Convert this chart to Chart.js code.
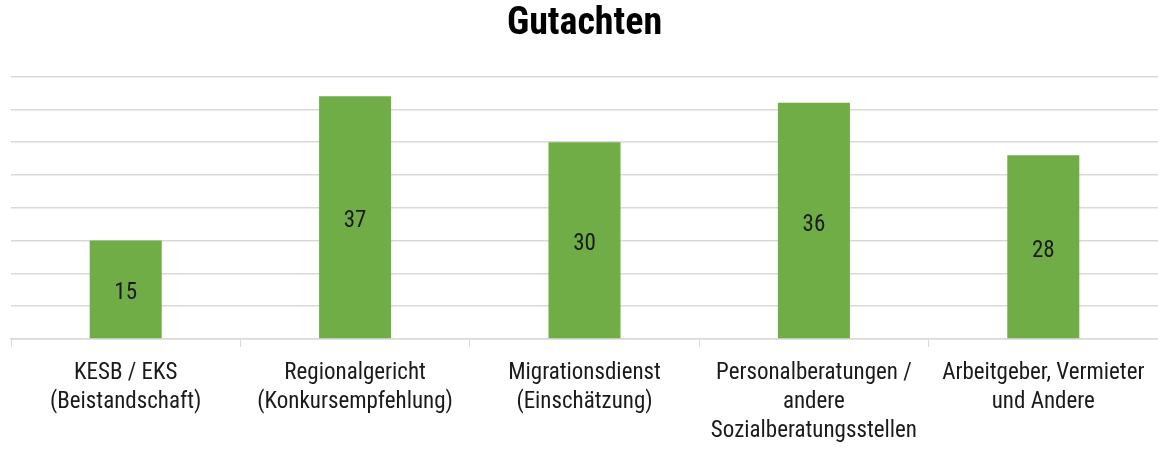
<!DOCTYPE html>
<html>
<head>
<meta charset="utf-8">
<script src="https://cdn.jsdelivr.net/npm/chart.js@4.4.1/dist/chart.umd.min.js"></script>
<style>
  html, body { margin: 0; padding: 0; background: #ffffff; }
  #wrap { width: 1158px; height: 450px; position: relative; }
</style>
</head>
<body>
<div id="wrap"><canvas id="c"></canvas></div>
<script>
const categories = [
  ["KESB / EKS", "(Beistandschaft)"],
  ["Regionalgericht", "(Konkursempfehlung)"],
  ["Migrationsdienst", "(Einschätzung)"],
  ["Personalberatungen /", "andere", "Sozialberatungsstellen"],
  ["Arbeitgeber, Vermieter", "und Andere"]
];
const values = [15, 37, 30, 36, 28];
const titleText = "Gutachten";
const yMin = 0, yMax = 40, yStep = 5;

const FONT = "'Liberation Sans Narrow', 'Roboto Condensed', 'DejaVu Sans Condensed', sans-serif";

const centerLabels = {
  id: 'centerLabels',
  afterDatasetsDraw(chart) {
    const ctx = chart.ctx;
    const meta = chart.getDatasetMeta(0);
    ctx.save();
    ctx.font = "23px " + FONT;
    ctx.fillStyle = "#1a1a1a";
    ctx.textAlign = "center";
    ctx.textBaseline = "alphabetic";
    meta.data.forEach((bar, i) => {
      const y = (bar.y + bar.base) / 2 + 10;
      ctx.fillText(String(values[i]), bar.x, y);
    });
    ctx.restore();
  }
};

new Chart(document.getElementById('c'), {
  type: 'bar',
  data: {
    labels: categories,
    datasets: [{
      data: values,
      backgroundColor: '#70AD47',
      borderWidth: 0,
      categoryPercentage: 1.0,
      barPercentage: 0.314
    }]
  },
  options: {
    responsive: true,
    maintainAspectRatio: false,
    animation: false,
    layout: { padding: { left: 11, right: 0, top: 0, bottom: 0 } },
    plugins: {
      legend: { display: false },
      tooltip: { enabled: false },
      title: {
        display: true,
        text: titleText,
        color: '#000000',
        font: { family: FONT, size: 38, weight: 'bold', lineHeight: 1.2 },
        padding: { top: 2, bottom: 29 }
      }
    },
    scales: {
      x: {
        afterFit(scale) {
          scale.height = 111;
          scale.paddingLeft = 0;
          scale.paddingRight = 0;
        },
        grid: { drawOnChartArea: false, drawTicks: true, tickLength: 8, color: '#d9d9d9', lineWidth: 1 },
        border: { display: true, color: '#d9d9d9', width: 1.5 },
        ticks: {
          color: '#1a1a1a',
          padding: 12,
          maxRotation: 0,
          autoSkip: false,
          font: { family: FONT, size: 23, lineHeight: 1.26 }
        }
      },
      y: {
        min: yMin,
        max: yMax,
        afterFit(scale) { scale.width = 0; },
        ticks: { display: false, stepSize: yStep },
        grid: { drawTicks: false, color: '#d9d9d9', lineWidth: 1.5 },
        border: { display: false }
      }
    }
  },
  plugins: [centerLabels]
});
</script>
</body>
</html>
